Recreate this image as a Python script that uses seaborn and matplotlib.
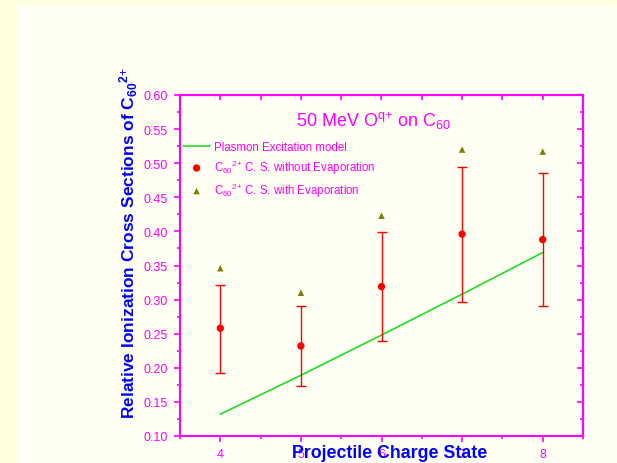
import matplotlib
matplotlib.use('Agg')
import matplotlib.pyplot as plt
import seaborn as sns
import numpy as np
from matplotlib.patches import Rectangle
from matplotlib.ticker import MultipleLocator, FormatStrFormatter

# Data
charge = [4, 5, 6, 7, 8]
cs_no_evap = [0.258, 0.232, 0.319, 0.396, 0.388]
err_low = [0.193, 0.174, 0.239, 0.297, 0.291]
err_high = [0.322, 0.290, 0.399, 0.495, 0.485]
cs_evap = [0.346, 0.310, 0.423, 0.520, 0.517]
plasmon = [0.132, 0.189, 0.248, 0.308, 0.369]

sns.set_style('white')
plt.rcParams['font.family'] = ['Liberation Sans', 'DejaVu Sans']
plt.rcParams['mathtext.fontset'] = 'custom'
plt.rcParams['mathtext.rm'] = 'Liberation Sans'
plt.rcParams['mathtext.it'] = 'Liberation Sans:italic'
plt.rcParams['mathtext.bf'] = 'Liberation Sans:bold'

MAG = '#FF00FF'
BLUE = '#0000FF'
PANEL = '#FFFFF4'

fig = plt.figure(figsize=(6.17, 4.64), dpi=100, facecolor='#FFFFDD')
fig.patches.append(Rectangle((17/617, 0), 1 - 17/617, 458/464, transform=fig.transFigure,
                             facecolor=PANEL, edgecolor='none', zorder=-10))
ax = fig.add_axes([180/617, 27/464, 403/617, 341/464])
ax.set_facecolor(PANEL)

sns.lineplot(x=charge, y=plasmon, color='#22DD22', lw=1.2, ax=ax,
             label='Plasmon Excitation model')
yerr = [np.array(cs_no_evap) - np.array(err_low), np.array(err_high) - np.array(cs_no_evap)]
ax.errorbar(charge, cs_no_evap, yerr=yerr, fmt='none', ecolor='red',
            elinewidth=1.0, capsize=3.5, capthick=1.0, zorder=2)
sns.scatterplot(x=charge, y=cs_no_evap, color='red', marker='o', s=28, edgecolor='none',
                label=r'C$_{60}$$^{\text{2+}}$ C. S. without Evaporation', ax=ax, zorder=3)
sns.scatterplot(x=charge, y=cs_evap, color='#808000', marker='^', s=22, edgecolor='none',
                label=r'C$_{60}$$^{\text{2+}}$ C. S. with Evaporation', ax=ax, zorder=3)

ax.set_xlim(3.5, 8.5)
ax.set_ylim(0.1, 0.6)
ax.xaxis.set_major_locator(MultipleLocator(1))
ax.xaxis.set_minor_locator(MultipleLocator(0.5))
ax.yaxis.set_major_locator(MultipleLocator(0.05))
ax.yaxis.set_minor_locator(MultipleLocator(0.025))
ax.yaxis.set_major_formatter(FormatStrFormatter('%.2f'))
ax.tick_params(which='both', direction='out', colors=MAG, labelsize=9, width=1.2,
               bottom=True, left=True, top=False, right=False)
ax.tick_params(which='major', length=4, pad=5)
ax.tick_params(which='minor', length=2.5)
for s in ax.spines.values():
    s.set_color(MAG)
    s.set_linewidth(1.5)
    s.set_visible(True)

secx = ax.secondary_xaxis('top')
secx.xaxis.set_major_locator(MultipleLocator(0.5))
secx.tick_params(direction='in', length=3.5, width=1.2, colors=MAG, labeltop=False)
secx.spines['top'].set_color(MAG)
secx.spines['top'].set_linewidth(1.5)

secy = ax.secondary_yaxis('right')
secy.yaxis.set_major_locator(MultipleLocator(0.05))
secy.yaxis.set_minor_locator(MultipleLocator(0.025))
secy.tick_params(which='major', direction='in', length=4, width=1.2, colors=MAG, labelright=False)
secy.tick_params(which='minor', direction='in', length=2.5, width=1.2, colors=MAG)
secy.spines['right'].set_color(MAG)
secy.spines['right'].set_linewidth(1.5)

ax.set_xlabel('Projectile Charge State', color=BLUE, fontsize=12.8, fontweight='bold')
ax.xaxis.set_label_coords(0.521, -0.023)
ax.set_ylabel(r'Relative Ionization Cross Sections of C$_{\mathbf{60}}$$^{\mathbf{2}\text{+}}$',
              color=BLUE, fontsize=12.5, fontweight='bold')
ax.yaxis.label.set_va('center')
ax.yaxis.set_label_coords(-0.128, 0.569)

ax.text(0.479, 0.909, r'50 MeV O$^{\text{q+}}$ on C$_{60}$', transform=ax.transAxes,
        ha='center', va='baseline', color=MAG, fontsize=13)

ax.legend(loc='upper left', bbox_to_anchor=(3/403, (437-142)/341), frameon=False,
          labelcolor=MAG, fontsize=8.3, handlelength=2.35, handletextpad=0.3,
          labelspacing=0.42, borderpad=0, borderaxespad=0)

fig.savefig('out.png', dpi=100, facecolor=fig.get_facecolor())
